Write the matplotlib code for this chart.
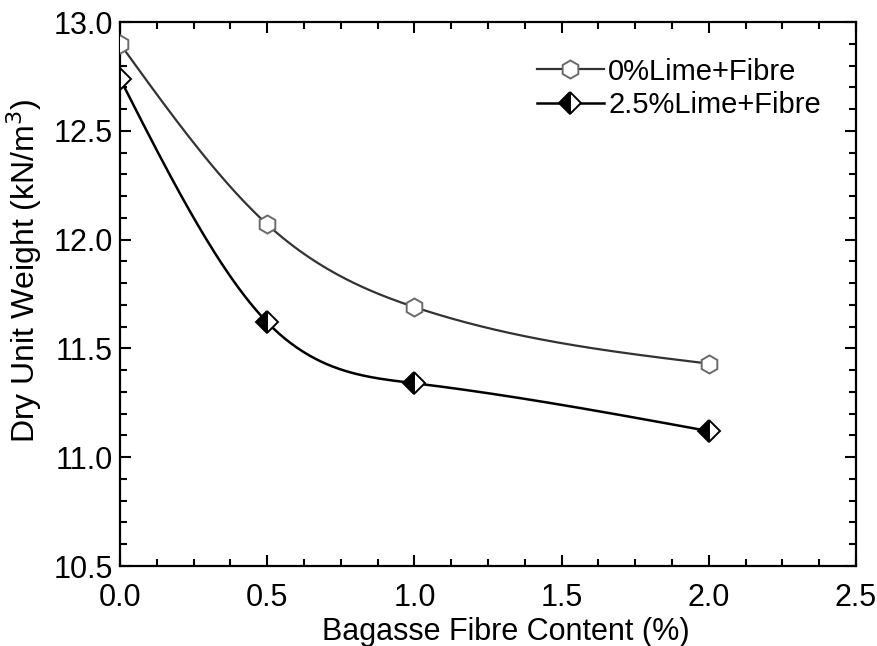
import numpy as np
import matplotlib
matplotlib.use("Agg")
import matplotlib.pyplot as plt
from matplotlib.ticker import MultipleLocator, FormatStrFormatter

plt.rcParams['font.family'] = ['Liberation Sans', 'DejaVu Sans']

fibre = [0.0, 0.5, 1.0, 2.0]
lime0 = [12.90, 12.07, 11.69, 11.43]
lime25 = [12.74, 11.62, 11.34, 11.12]
labels = ["0%Lime+Fibre", "2.5%Lime+Fibre"]


def natural_spline(x, y, n=200):
    x = np.asarray(x, float)
    y = np.asarray(y, float)
    k = len(x)
    h = np.diff(x)
    A = np.zeros((k, k))
    b = np.zeros(k)
    A[0, 0] = 1
    A[-1, -1] = 1
    for i in range(1, k - 1):
        A[i, i - 1] = h[i - 1]
        A[i, i] = 2 * (h[i - 1] + h[i])
        A[i, i + 1] = h[i]
        b[i] = 3 * ((y[i + 1] - y[i]) / h[i] - (y[i] - y[i - 1]) / h[i - 1])
    c = np.linalg.solve(A, b)
    xs = np.linspace(x[0], x[-1], n)
    ys = np.empty_like(xs)
    for j, xv in enumerate(xs):
        i = min(np.searchsorted(x, xv, side='right') - 1, k - 2)
        dx = xv - x[i]
        bb = (y[i + 1] - y[i]) / h[i] - h[i] * (2 * c[i] + c[i + 1]) / 3
        d = (c[i + 1] - c[i]) / (3 * h[i])
        ys[j] = y[i] + bb * dx + c[i] * dx ** 2 + d * dx ** 3
    return xs, ys


fig = plt.figure(figsize=(8.77, 6.46), dpi=100)
ax = fig.add_axes([120 / 877, 1 - 566 / 646, 736 / 877, 544 / 646])

xs, ys = natural_spline(fibre, lime0)
ax.plot(xs, ys, color='#333333', lw=1.6, zorder=2)
xs2, ys2 = natural_spline(fibre, lime25)
ax.plot(xs2, ys2, color='black', lw=1.8, zorder=2)

ax.plot(fibre, lime0, linestyle='none', marker='h', ms=13, mfc='white',
        mec='#6a6a6a', mew=1.4, zorder=3)
ax.plot(fibre, lime25, linestyle='none', marker='D', ms=11, mfc='black',
        mfcalt='white', fillstyle='left', mec='black', mew=1.4, zorder=3)

# legend handles
h1, = ax.plot([], [], color='#333333', lw=1.6, marker='h', ms=13, mfc='white',
              mec='#6a6a6a', mew=1.4)
h2, = ax.plot([], [], color='black', lw=1.8, marker='D', ms=11, mfc='black',
              mfcalt='white', fillstyle='left', mec='black', mew=1.4)
ax.legend([h1, h2], labels, loc='upper right', frameon=False, fontsize=21,
          handlelength=2.3, handletextpad=0.15, borderaxespad=0.3, labelspacing=0.2,
          bbox_to_anchor=(0.98, 0.972))

ax.set_xlim(0, 2.5)
ax.set_ylim(10.5, 13.0)
ax.xaxis.set_major_locator(MultipleLocator(0.5))
ax.xaxis.set_minor_locator(MultipleLocator(0.125))
ax.yaxis.set_major_locator(MultipleLocator(0.5))
ax.yaxis.set_minor_locator(MultipleLocator(0.1))
ax.xaxis.set_major_formatter(FormatStrFormatter('%.1f'))
ax.yaxis.set_major_formatter(FormatStrFormatter('%.1f'))
ax.tick_params(which='both', direction='in', top=True, right=True, width=1.5,
               labelsize=22)
ax.tick_params(axis='y', pad=5)
ax.tick_params(axis='x', pad=12)
ax.tick_params(which='major', length=8)
ax.tick_params(which='minor', length=5)
for s in ax.spines.values():
    s.set_linewidth(1.6)

ax.set_xlabel('Bagasse Fibre Content (%)', fontsize=22)
ax.set_ylabel('Dry Unit Weight (kN/m$^3$)', fontsize=23)
ax.xaxis.set_label_coords((506 - 120) / 736, (566 - 617) / 544)
ax.xaxis.label.set_va('top')
ax.yaxis.set_label_coords((24 - 120) / 736, (566 - 271) / 544)
ax.yaxis.label.set_va('center')

fig.savefig('out.png', dpi=100)
